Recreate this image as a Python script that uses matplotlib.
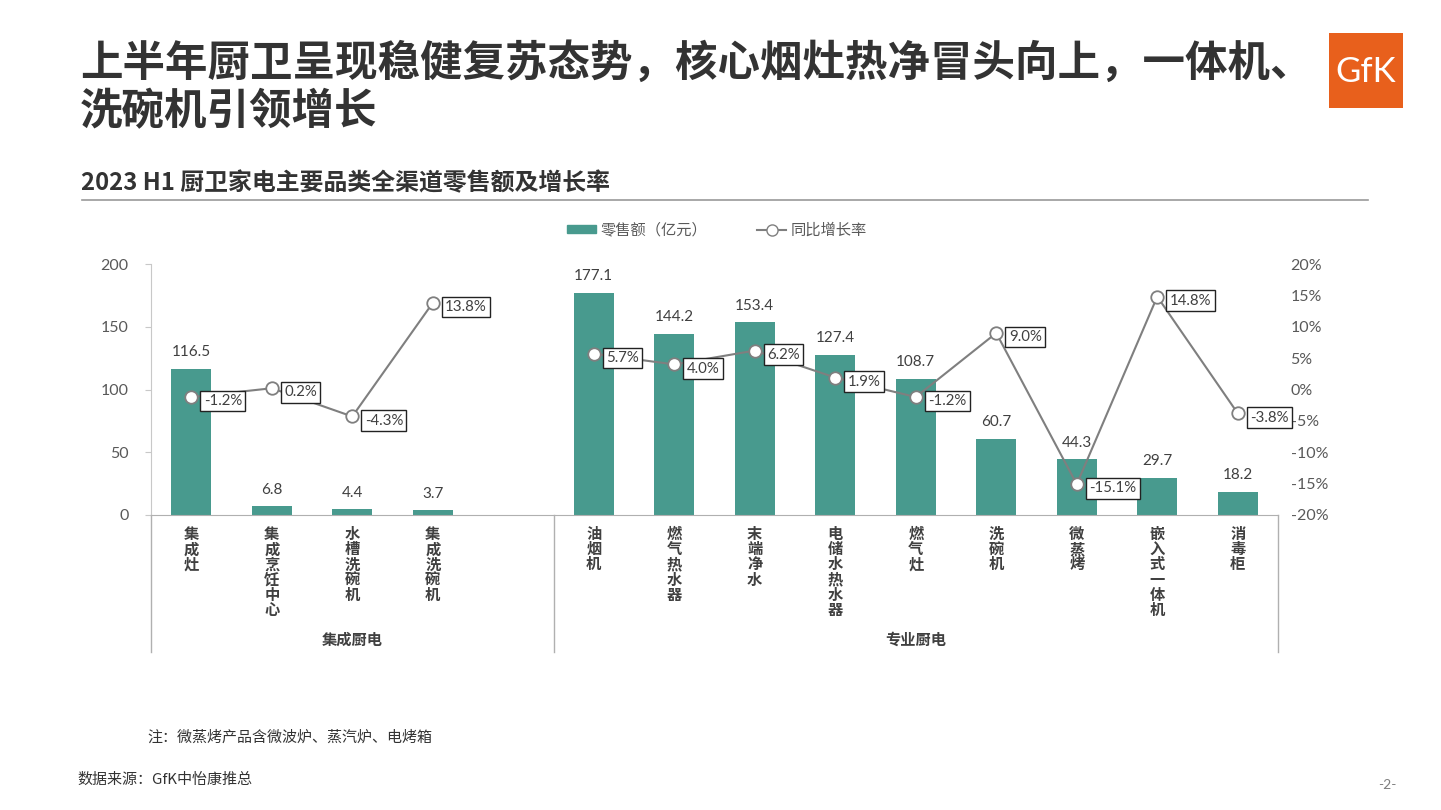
import numpy as np
import matplotlib.pyplot as plt
from matplotlib.patches import Rectangle
from matplotlib.lines import Line2D

plt.rcParams['font.family'] = ['Lato', 'Noto Sans CJK SC', 'DejaVu Sans']

# data
group_names = ["集成厨电", "专业厨电"]
integrated_cats = ["集成灶", "集成烹饪中心", "水槽洗碗机", "集成洗碗机"]
integrated_sales = [116.5, 6.8, 4.4, 3.7]
integrated_growth = [-1.2, 0.2, -4.3, 13.8]
pro_cats = ["油烟机", "燃气热水器", "末端净水", "电储水热水器", "燃气灶",
            "洗碗机", "微蒸烤", "嵌入式一体机", "消毒柜"]
pro_sales = [177.1, 144.2, 153.4, 127.4, 108.7, 60.7, 44.3, 29.7, 18.2]
pro_growth = [5.7, 4.0, 6.2, 1.9, -1.2, 9.0, -15.1, 14.8, -3.8]

title = "上半年厨卫呈现稳健复苏态势，核心烟灶热净冒头向上，一体机、\n洗碗机引领增长"
subtitle = "2023 H1 厨卫家电主要品类全渠道零售额及增长率"
note = "注：微蒸烤产品含微波炉、蒸汽炉、电烤箱"
source = "数据来源：GfK中怡康推总"

BAR = "#489A8E"
LINE = "#7F7F7F"
TXT = "#404040"
CJK = ['Noto Sans CJK SC', 'DejaVu Sans']

W, H = 1441, 810
fig = plt.figure(figsize=(W / 100, H / 100), dpi=100)


def fx(px):
    return px / W


def fy(py):
    return 1 - py / H


# header
fig.text(fx(80), fy(87), title, fontsize=30.6, fontweight='bold', color="#333333",
         family=CJK, va='center', ha='left', linespacing=1.15)
fig.text(fx(81), fy(183), subtitle, fontsize=17.2, fontweight='bold', color="#333333",
         family=CJK, va='center', ha='left')
fig.add_artist(Line2D([fx(82), fx(1368)], [fy(200), fy(200)], color="#9a9a9a", lw=1.2))

# logo
fig.add_artist(Rectangle((fx(1329), fy(108)), fx(74), 75 / H, color="#E8601C", lw=0))
fig.text(fx(1366), fy(72), "GfK", fontsize=25, color="white", family=['Lato'],
         ha='center', va='center')

# axes
ax = fig.add_axes([fx(151), fy(515), fx(1127), 251 / H])
ax2 = ax.twinx()

n1 = len(integrated_cats)
x1 = np.arange(n1)
x2 = np.arange(len(pro_cats)) + n1 + 1

ax.bar(x1, integrated_sales, width=0.5, color=BAR, zorder=2)
ax.bar(x2, pro_sales, width=0.5, color=BAR, zorder=2)

for xs, vals in ((x1, integrated_sales), (x2, pro_sales)):
    for x, v in zip(xs, vals):
        ax.annotate(f"{v:.1f}", (x, v), xytext=(0, 7), textcoords='offset points',
                    ha='center', va='bottom', fontsize=11, color=TXT)

ax.set_xlim(-0.5, x2[-1] + 0.5)
ax.set_ylim(0, 200)
ax.set_yticks([0, 50, 100, 150, 200])
ax.set_xticks([])
for s in ('top', 'right'):
    ax.spines[s].set_visible(False)
ax.spines['left'].set_color("#c8c8c8")
ax.spines['bottom'].set_color("#b0b0b0")
ax.tick_params(axis='y', colors="#c8c8c8", labelcolor="#595959", labelsize=11.5,
               length=4, pad=12)

for xs, vals in ((x1, integrated_growth), (x2, pro_growth)):
    ax2.plot(xs, vals, color=LINE, lw=1.5, marker='o', ms=9,
             mfc='white', mec=LINE, mew=1.3, zorder=3)
    for x, v in zip(xs, vals):
        ax2.annotate(f"{v:.1f}%", (x, v), xytext=(9, -3), textcoords='offset points',
                     ha='left', va='center', fontsize=10.8, color=TXT,
                     bbox=dict(boxstyle='square,pad=0.22', fc='white', ec='#222222', lw=1))

ax2.set_ylim(-20, 20)
ax2.set_yticks(np.arange(-20, 21, 5))
ax2.set_yticklabels([f"{t}%" for t in range(-20, 21, 5)])
for s in ('top', 'right', 'left', 'bottom'):
    ax2.spines[s].set_visible(False)
ax2.tick_params(axis='y', length=0, labelcolor="#595959", labelsize=11.5, pad=9)

# category labels, stacked vertically
for xs, cats in ((x1, integrated_cats), (x2, pro_cats)):
    for x, c in zip(xs, cats):
        ax.text(x, -0.045, "\n".join(c), transform=ax.get_xaxis_transform(),
                ha='center', va='top', fontsize=11, fontweight='bold', color=TXT,
                family=CJK, linespacing=0.93)

# group separators and names
for xb in (-0.5, n1 + 0.5, x2[-1] + 0.5):
    ax.plot([xb, xb], [0, -0.546], transform=ax.get_xaxis_transform(),
            color="#b0b0b0", lw=1, clip_on=False)
ax.text((-0.5 + n1 + 0.5) / 2, -0.498, group_names[0], transform=ax.get_xaxis_transform(),
        ha='center', va='center', fontsize=11, fontweight='bold', color=TXT, family=CJK)
ax.text((n1 + 0.5 + x2[-1] + 0.5) / 2, -0.498, group_names[1],
        transform=ax.get_xaxis_transform(),
        ha='center', va='center', fontsize=11, fontweight='bold', color=TXT, family=CJK)

# legend
handles = [Rectangle((0, 0), 1, 1, color=BAR),
           Line2D([], [], color=LINE, lw=1.5, marker='o', ms=8, mfc='white', mec=LINE)]
fig.legend(handles, ["零售额（亿元）", "同比增长率"], loc='center',
           bbox_to_anchor=(fx(717), fy(230)), ncol=2, frameon=False,
           prop={'family': CJK, 'size': 11}, labelcolor="#595959",
           handlelength=1.9, handleheight=0.5, columnspacing=3.3, handletextpad=0.3)

# footer
fig.text(fx(147), fy(738), note, fontsize=10.8, color="#333333", family=CJK,
         ha='left', va='center')
fig.text(fx(77), fy(780), source, fontsize=10.8, color="#333333", family=CJK,
         ha='left', va='center')
fig.text(fx(1387), fy(785), "-2-", fontsize=10, color="#7f7f7f", ha='center', va='center')

fig.savefig("out.png", dpi=100)
